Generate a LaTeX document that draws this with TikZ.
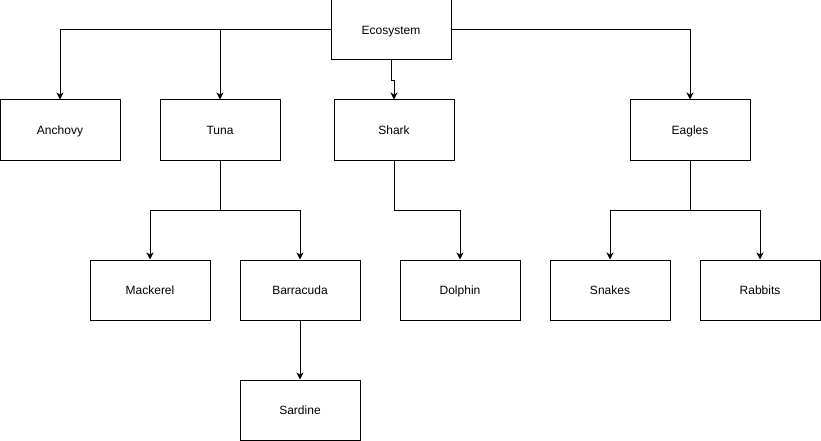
\documentclass[tikz,border=0pt]{standalone}
\usepackage{fontspec}
\setmainfont{Liberation Sans}
\usetikzlibrary{arrows.meta}

\tikzset{
    box/.style={draw, line width=1pt, minimum width=120pt, minimum height=60pt,
        inner sep=0pt, text height=8.6pt, text depth=0pt,
        font=\fontsize{12}{14}\selectfont},
    link/.style={line width=1pt, -{Stealth[length=7pt,width=7pt,inset=2pt]}}
}

\begin{document}
\begin{tikzpicture}[x=1pt, y=-1pt]
    \useasboundingbox (0,0) rectangle (821,441);

    % Nodes
    \node[box] (eco) at (391,30) {Ecosystem};
    \node[box] (anchovy) at (60,130) {Anchovy};
    \node[box] (tuna) at (220,130) {Tuna};
    \node[box] (shark) at (394,130) {Shark};
    \node[box] (eagles) at (690,130) {Eagles};
    \node[box] (mackerel) at (150,290) {Mackerel};
    \node[box] (barracuda) at (300,290) {Barracuda};
    \node[box] (dolphin) at (460,290) {Dolphin};
    \node[box] (snakes) at (610,290) {Snakes};
    \node[box] (rabbits) at (760,290) {Rabbits};
    \node[box] (sardine) at (300,410) {Sardine};

    % Arrows
    \draw[link] (eco.west) -| (anchovy.north);
    \draw[link] (eco.west) -| (tuna.north);
    \draw[link] (eco.south) -- ++(0,20) -| (shark.north);
    \draw[link] (eco.east) -| (eagles.north);
    \draw[link] (tuna.south) -- ++(0,50) -| (mackerel.north);
    \draw[link] (tuna.south) -- ++(0,50) -| (barracuda.north);
    \draw[link] (shark.south) -- ++(0,50) -| (dolphin.north);
    \draw[link] (eagles.south) -- ++(0,50) -| (snakes.north);
    \draw[link] (eagles.south) -- ++(0,50) -| (rabbits.north);
    \draw[link] (barracuda) -- (sardine);

\end{tikzpicture}
\end{document}
